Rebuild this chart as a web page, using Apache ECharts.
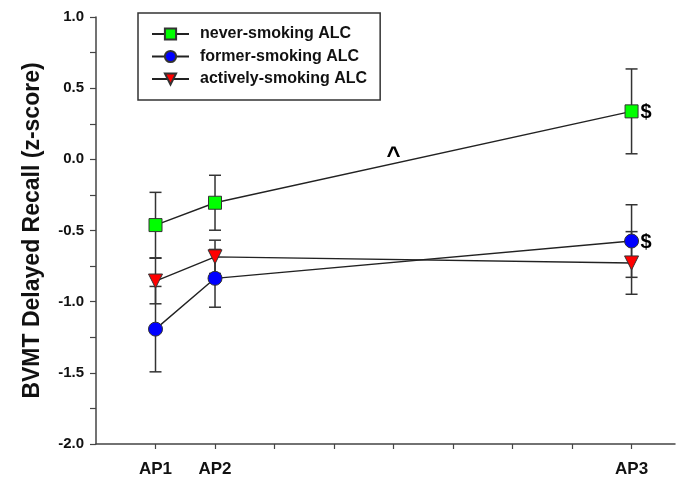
<!DOCTYPE html>
<html><head><meta charset="utf-8">
<script src="https://cdn.jsdelivr.net/npm/echarts@6/dist/echarts.min.js"></script>
<style>html,body{margin:0;padding:0;background:#fff}#c{width:685px;height:489px}</style>
</head><body><div id="c"></div>
<script>
var xPositions = [1, 2, 9];
var xTickLabels = {1: 'AP1', 2: 'AP2', 9: 'AP3'};
var seriesNames = ['never-smoking ALC', 'former-smoking ALC', 'actively-smoking ALC'];
var neverMean = [-0.462, -0.305, 0.337];
var neverErr = [0.23, 0.193, 0.298];
var formerMean = [-1.193, -0.836, -0.574];
var formerErr = [0.30, 0.203, 0.255];
var activeMean = [-0.855, -0.685, -0.728];
var activeErr = [0.16, 0.117, 0.22];
var dollarMarks = [[9, 0.337], [9, -0.574]];
var caretMark = [5.0, 0.02];

var FONT = '"Liberation Sans", Arial, sans-serif';
var lineCol = '#222';

function pts(mean) { return mean.map(function (v, i) { return [xPositions[i], v]; }); }
function errData(mean, err) { return mean.map(function (v, i) { return [xPositions[i], v - err[i], v + err[i]]; }); }

function errSeries(mean, err) {
  return {
    type: 'custom', silent: true, z: 1,
    data: errData(mean, err),
    encode: {x: 0, y: [1, 2]},
    renderItem: function (params, api) {
      var x = api.value(0);
      var lo = api.coord([x, api.value(1)]);
      var hi = api.coord([x, api.value(2)]);
      var hw = 6;
      var st = {stroke: '#333', lineWidth: 1.5};
      return {type: 'group', children: [
        {type: 'line', shape: {x1: lo[0], y1: lo[1], x2: hi[0], y2: hi[1]}, style: st},
        {type: 'line', shape: {x1: lo[0] - hw, y1: lo[1], x2: lo[0] + hw, y2: lo[1]}, style: st},
        {type: 'line', shape: {x1: hi[0] - hw, y1: hi[1], x2: hi[0] + hw, y2: hi[1]}, style: st}
      ]};
    }
  };
}

function lineSeries(name, mean, symbol, size, color, rot) {
  return {
    name: name, type: 'line', data: pts(mean), z: 3,
    symbol: symbol, symbolSize: size, symbolRotate: rot || 0, showAllSymbol: true,
    lineStyle: {color: lineCol, width: 1.4},
    itemStyle: {color: color, borderColor: '#333', borderWidth: 1},
    emphasis: {disabled: true}
  };
}

var chart = echarts.init(document.getElementById('c'), null, {renderer: 'canvas'});
chart.setOption({
  animation: false,
  backgroundColor: '#fff',
  grid: {left: 96, right: 10, top: 17, bottom: 45, containLabel: false},
  xAxis: {
    type: 'value', min: 0, max: 9.73, interval: 1,
    axisLine: {show: true, onZero: false, lineStyle: {color: '#444', width: 1.5}},
    axisTick: {show: true, length: 5, lineStyle: {color: '#444', width: 1.2}},
    splitLine: {show: false},
    axisLabel: {
      margin: 17, color: '#111', fontFamily: FONT, fontWeight: 'bold', fontSize: 17,
      showMinLabel: false, showMaxLabel: false,
      formatter: function (v) { return xTickLabels[v] || ''; }
    }
  },
  yAxis: {
    type: 'value', min: -2, max: 1, interval: 0.5,
    name: 'BVMT Delayed Recall (z-score)', nameLocation: 'middle', nameGap: 52,
    nameTextStyle: {color: '#111', fontFamily: FONT, fontWeight: 'bold', fontSize: 23},
    axisLine: {show: true, onZero: false, lineStyle: {color: '#444', width: 1.5}},
    axisTick: {show: true, length: 6, lineStyle: {color: '#444', width: 1.2}},
    minorTick: {show: true, splitNumber: 2, length: 6, lineStyle: {color: '#444', width: 1.2}},
    splitLine: {show: false},
    axisLabel: {
      margin: 12, color: '#111', fontFamily: FONT, fontWeight: 'bold', fontSize: 15,
      formatter: function (v) { return v.toFixed(1); }
    }
  },
  legend: {
    orient: 'vertical', left: 138, top: 13,
    data: seriesNames,
    padding: [13, 13, 13, 13], itemGap: 6.5,
    itemWidth: 37, itemHeight: 14,
    borderColor: '#333', borderWidth: 1.5,
    textStyle: {color: '#111', fontFamily: FONT, fontWeight: 'bold', fontSize: 16, padding: [0, 0, 0, 6]}
  },
  series: [
    errSeries(neverMean, neverErr),
    errSeries(formerMean, formerErr),
    errSeries(activeMean, activeErr),
    lineSeries(seriesNames[0], neverMean, 'rect', 13, '#00ff00'),
    lineSeries(seriesNames[1], formerMean, 'circle', 14, '#0000ff'),
    lineSeries(seriesNames[2], activeMean, 'triangle', 14, '#ff0000', 180)
  ]
});

var texts = [];
dollarMarks.forEach(function (d) {
  var p = chart.convertToPixel({gridIndex: 0}, d);
  texts.push({type: 'text', x: p[0] + 9, y: p[1] + 1, z: 10,
    style: {text: '$', fill: '#000', font: 'bold 20px ' + FONT, textAlign: 'left', textVerticalAlign: 'middle'}});
});
var cp = chart.convertToPixel({gridIndex: 0}, caretMark);
texts.push({type: 'text', x: cp[0], y: cp[1], z: 10,
  style: {text: '^', fill: '#000', font: 'bold 24px ' + FONT, textAlign: 'center', textVerticalAlign: 'middle'}});
chart.setOption({graphic: texts});
</script></body></html>
